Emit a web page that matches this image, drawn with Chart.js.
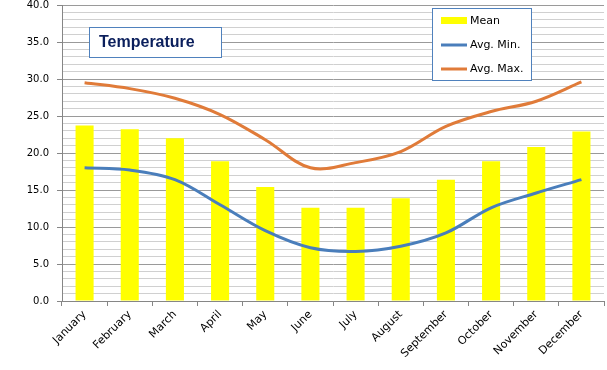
<!DOCTYPE html>
<html>
<head>
<meta charset="utf-8">
<script src="https://cdn.jsdelivr.net/npm/chart.js@4"></script>
<style>
  body { margin: 0; background: #fff; }
  #wrap { width: 607px; height: 370px; }
</style>
</head>
<body>
<div id="wrap"><canvas id="tempChart" width="607" height="370"></canvas></div>
<script>
// monthly temperatures
var months = ["January", "February", "March", "April", "May", "June", "July",
              "August", "September", "October", "November", "December"];
var meanTemp = [23.7, 23.2, 22.0, 18.9, 15.4, 12.6, 12.6, 13.9, 16.4, 18.9, 20.8, 22.9];
var minTemp  = [18.0, 17.7, 16.4, 13.0, 9.5, 7.2, 6.7, 7.4, 9.2, 12.6, 14.6, 16.4];
var maxTemp  = [29.5, 28.7, 27.4, 25.2, 21.8, 18.0, 18.7, 20.2, 23.6, 25.6, 27.0, 29.6];
var seriesNames = ["Mean", "Avg. Min.", "Avg. Max."];
var chartTitle = "Temperature";

var axisGrey = '#868686';

// title box + legend box drawn inside the plot, like the excel chart
var boxesPlugin = {
    id: 'boxes',
    afterDraw: function (chart) {
        var c = chart.ctx;
        c.save();
        // title
        c.fillStyle = '#fff';
        c.fillRect(89, 27, 132, 30);
        c.strokeStyle = '#4f81bd';
        c.lineWidth = 1;
        c.strokeRect(89.5, 27.5, 132, 30);
        c.fillStyle = '#0b1f5c';
        c.font = 'bold 16px "Liberation Sans", Arial, sans-serif';
        c.textBaseline = 'middle';
        c.fillText(chartTitle, 99, 43);

        // legend
        c.fillStyle = '#fff';
        c.fillRect(432, 8, 99, 72);
        c.strokeRect(432.5, 8.5, 99, 72);
        c.font = '11px "DejaVu Sans", Verdana, sans-serif';
        var ds = chart.data.datasets;
        var rows = [21, 45, 69];
        for (var i = 0; i < ds.length; i++) {
            var y = rows[i];
            if (ds[i].type === 'bar') {
                c.fillStyle = ds[i].backgroundColor;
                c.fillRect(441, y - 4, 26, 7);
            } else {
                c.strokeStyle = ds[i].borderColor;
                c.lineWidth = 3;
                c.beginPath();
                c.moveTo(441, y);
                c.lineTo(467, y);
                c.stroke();
            }
            c.fillStyle = '#000';
            c.fillText(ds[i].label, 470, y);
        }
        c.restore();
    }
};

var ctx = document.getElementById("tempChart").getContext('2d');
var tempChart = new Chart(ctx, {
    type: 'bar',
    data: {
        labels: months,
        datasets: [
        {
            type: 'bar',
            label: seriesNames[0],
            data: meanTemp,
            backgroundColor: '#ffff00',
            barPercentage: 0.4,
            categoryPercentage: 1.0,
            order: 3
        },
        {
            type: 'line',
            label: seriesNames[1],
            data: minTemp,
            borderColor: '#4a7ebb',
            borderWidth: 3,
            pointRadius: 0,
            tension: 0.35,
            fill: false,
            order: 1
        },
        {
            type: 'line',
            label: seriesNames[2],
            data: maxTemp,
            borderColor: '#e07b39',
            borderWidth: 3,
            pointRadius: 0,
            tension: 0.35,
            fill: false,
            order: 2
        }
        ]
    },
    options: {
        responsive: false,
        animation: false,
        layout: { padding: { left: 0, top: 5, right: 3, bottom: 0 } },
        plugins: {
            legend: { display: false },
            tooltip: { enabled: false }
        },
        scales: {
            y: {
                min: 0,
                max: 40,
                afterFit: function (scale) {
                    scale.width = 62;
                    scale.paddingTop = 0;
                    scale.paddingBottom = 0;
                },
                ticks: {
                    stepSize: 1,
                    autoSkip: false,
                    color: '#000',
                    padding: 8,
                    font: { family: '"DejaVu Sans", Verdana, sans-serif', size: 10 },
                    callback: function (v) { return v % 5 === 0 ? v.toFixed(1) : ''; }
                },
                grid: {
                    color: function (c) { return c.tick.value % 5 === 0 ? '#9a9a9a' : '#d0d0d0'; },
                    tickColor: function (c) { return c.tick.value % 5 === 0 ? axisGrey : 'rgba(0,0,0,0)'; },
                    tickLength: 5
                },
                border: { display: true, color: axisGrey }
            },
            x: {
                afterFit: function (scale) {
                    scale.height = 69;
                    scale.paddingLeft = 0;
                    scale.paddingRight = 0;
                },
                ticks: {
                    color: '#000',
                    minRotation: 45,
                    maxRotation: 45,
                    autoSkip: false,
                    padding: 2,
                    font: { family: '"DejaVu Sans", Verdana, sans-serif', size: 11 }
                },
                grid: {
                    offset: true,
                    drawOnChartArea: false,
                    color: axisGrey,
                    tickLength: 5
                },
                border: { display: true, color: axisGrey }
            }
        }
    },
    plugins: [boxesPlugin]
});
</script>
</body>
</html>
